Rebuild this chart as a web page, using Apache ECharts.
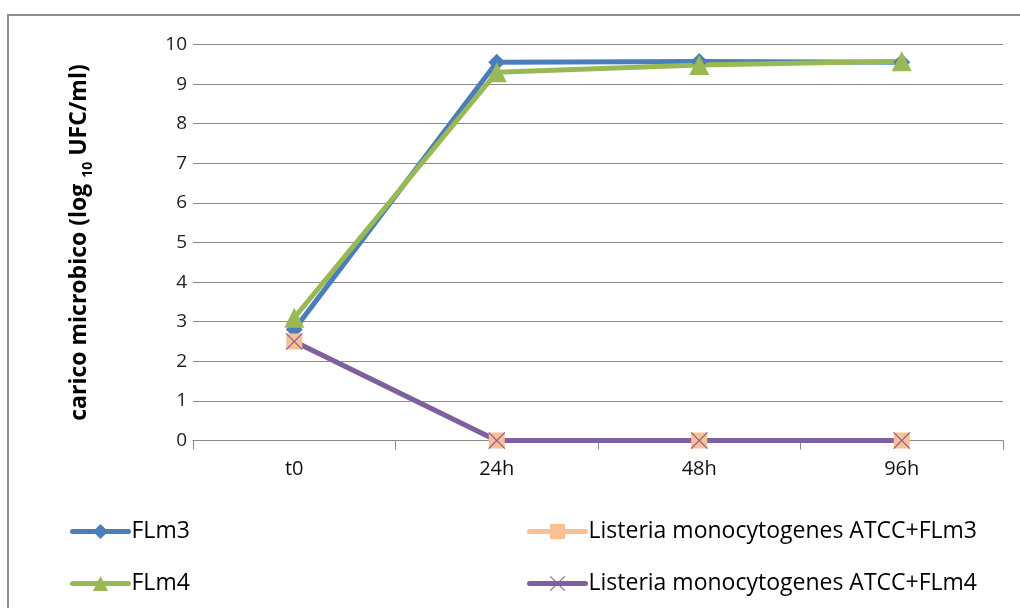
<!DOCTYPE html>
<html>
<head>
<meta charset="utf-8">
<script src="https://cdn.jsdelivr.net/npm/echarts@6/dist/echarts.min.js"></script>
<style>
  html, body { margin: 0; padding: 0; background: #ffffff; }
  #chart { width: 1020px; height: 608px; }
</style>
</head>
<body>
<div id="chart"></div>
<script>
// Sampling times
const categories = ['t0', '24h', '48h', '96h'];

// Microbial load, log10 UFC/ml
const flm3 = [2.8, 9.55, 9.57, 9.55];
const listeriaFlm3 = [2.5, 0, 0, 0];
const flm4 = [3.1, 9.3, 9.48, 9.58];
const listeriaFlm4 = [2.5, 0, 0, 0];

const seriesNames = [
  'FLm3',
  'Listeria monocytogenes ATCC+FLm3',
  'FLm4',
  'Listeria monocytogenes ATCC+FLm4'
];

const FONT = '"Open Sans", "Noto Sans", "Liberation Sans", sans-serif';
const GRID_COLOR = '#8a8a8a';

// Thin "x" cross drawn as a filled outline
const crossPath = 'path://M0,1 L1,0 L10,9 L19,0 L20,1 L11,10 L20,19 L19,20 L10,11 L1,20 L0,19 L9,10 Z';

function lineSeries(name, data, color, symbol, size) {
  return {
    name: name,
    type: 'line',
    data: data,
    symbol: symbol,
    symbolSize: size,
    showAllSymbol: true,
    lineStyle: { color: color, width: 5, cap: 'round', join: 'round' },
    itemStyle: { color: color },
    emphasis: { disabled: true },
    animation: false
  };
}

const legendCommon = {
  orient: 'vertical',
  top: 515,
  itemWidth: 56,
  itemHeight: 19,
  itemGap: 29,
  lineStyle: { width: 5, cap: 'round' },
  textStyle: { fontFamily: FONT, fontSize: 23, color: '#000', padding: [0, 0, 0, -2] },
  selectedMode: false
};

const chart = echarts.init(document.getElementById('chart'), null, { renderer: 'canvas' });

chart.setOption({
  backgroundColor: '#ffffff',
  animation: false,
  graphic: [{
    type: 'rect',
    shape: { x: 8, y: 15, width: 1100, height: 700 },
    style: { fill: 'none', stroke: '#8f8f8f', lineWidth: 2 },
    silent: true
  }],
  grid: { left: 193, right: 17, top: 44.5, bottom: 167.5 },
  xAxis: {
    type: 'category',
    data: categories,
    boundaryGap: true,
    axisLine: { show: true, lineStyle: { color: GRID_COLOR, width: 1 } },
    axisTick: { show: true, length: 9, alignWithLabel: false, lineStyle: { color: GRID_COLOR, width: 1 } },
    axisLabel: { color: '#111', fontFamily: FONT, fontSize: 20, margin: 19 },
    splitLine: { show: false }
  },
  yAxis: {
    type: 'value',
    min: 0,
    max: 10,
    interval: 1,
    name: '{a|carico microbico (log }{s|10}{a| UFC/ml)}',
    nameLocation: 'middle',
    nameRotate: 90,
    nameGap: 102,
    nameTextStyle: {
      rich: {
        a: { fontFamily: FONT, fontSize: 23, fontWeight: 'bold', color: '#000', lineHeight: 30, verticalAlign: 'bottom' },
        s: { fontFamily: FONT, fontSize: 14, fontWeight: 'bold', color: '#000', lineHeight: 30, verticalAlign: 'bottom', padding: [0, 0, -4, 0] }
      }
    },
    axisLine: { show: false },
    axisTick: { show: false },
    axisLabel: { color: '#222', fontFamily: FONT, fontSize: 19, margin: 6 },
    splitLine: { show: true, lineStyle: { color: GRID_COLOR, width: 1 } }
  },
  legend: [
    Object.assign({ data: [seriesNames[0], seriesNames[2]], left: 65 }, legendCommon),
    Object.assign({ data: [seriesNames[1], seriesNames[3]], left: 522 }, legendCommon)
  ],
  series: [
    lineSeries(seriesNames[0], flm3, '#4a7ebb', 'diamond', 17),
    lineSeries(seriesNames[1], listeriaFlm3, '#fac090', 'rect', 16),
    lineSeries(seriesNames[2], flm4, '#98b954', 'triangle', 20),
    lineSeries(seriesNames[3], listeriaFlm4, '#7d60a0', crossPath, 17)
  ]
});
</script>
</body>
</html>
